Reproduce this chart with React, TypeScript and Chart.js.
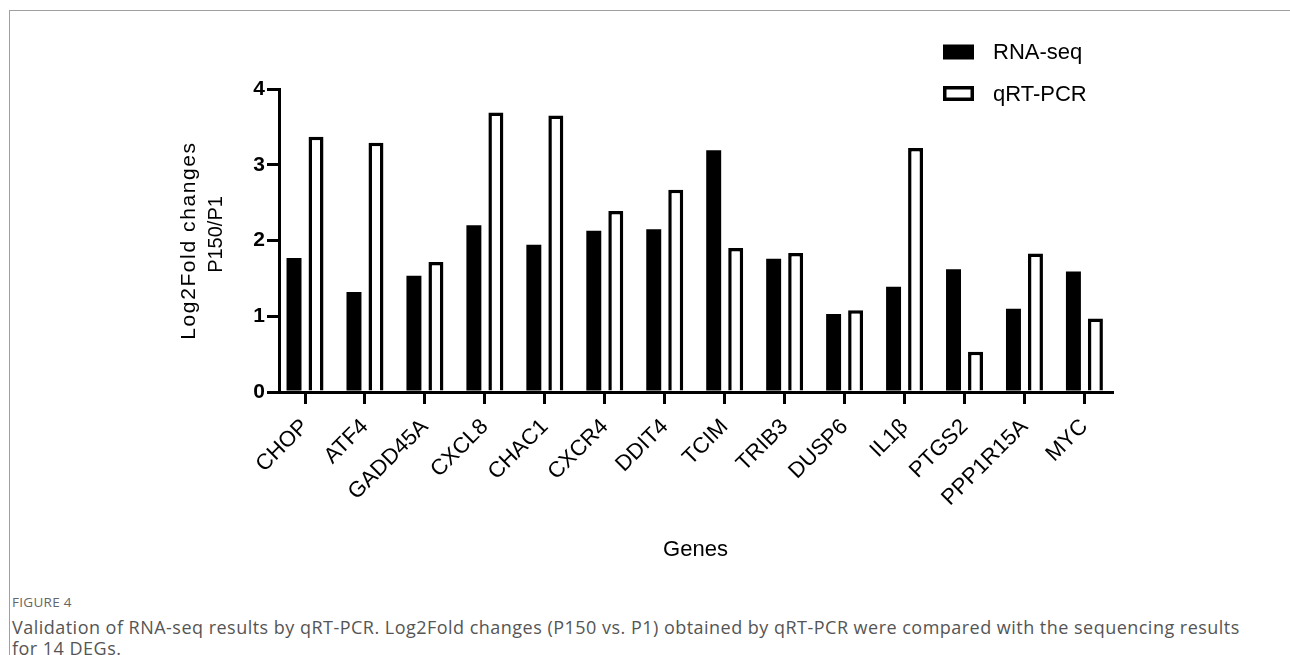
import React, { useEffect, useRef } from "react";
import { Chart, registerables } from "chart.js";

Chart.register(...registerables);

const genes = ["CHOP", "ATF4", "GADD45A", "CXCL8", "CHAC1", "CXCR4", "DDIT4", "TCIM", "TRIB3", "DUSP6", "IL1β", "PTGS2", "PPP1R15A", "MYC"];
const rnaSeq = [1.77, 1.32, 1.535, 2.2, 1.945, 2.13, 2.15, 3.19, 1.76, 1.03, 1.39, 1.62, 1.1, 1.59];
const qrtPcr = [3.37, 3.29, 1.716, 3.69, 3.65, 2.39, 2.67, 1.9, 1.835, 1.08, 3.22, 0.53, 1.83, 0.97];
const seriesLabels = ["RNA-seq", "qRT-PCR"];
const yTickValues = [0, 1, 2, 3, 4];
const yTitle = ["Log2Fold changes", "P150/P1"];
const xTitle = "Genes";

const FONT = "'Liberation Sans', Arial, Helvetica, sans-serif";

const legendPlugin = {
  id: "customLegend",
  afterDraw(chart: any) {
    const ctx = chart.ctx;
    const ds = chart.data.datasets;
    const x0 = 943;
    const rows = [44.5, 86];
    ctx.save();
    ds.forEach((d: any, i: number) => {
      const y = rows[i];
      const w = 31;
      const h = 15;
      ctx.fillStyle = d.backgroundColor;
      ctx.fillRect(x0, y, w, h);
      if (d.borderWidth > 0) {
        const bw = 3.5;
        ctx.strokeStyle = d.borderColor;
        ctx.lineWidth = bw;
        ctx.strokeRect(x0 + bw / 2, y + bw / 2, w - bw, h - bw);
      }
      ctx.fillStyle = "#000";
      ctx.font = `22px ${FONT}`;
      ctx.textBaseline = "middle";
      ctx.textAlign = "left";
      ctx.fillText(d.label, 993, y + h / 2 + 1);
    });
    ctx.restore();
  },
};

const yTitlePlugin = {
  id: "yTitleTwoLines",
  afterDraw(chart: any) {
    const ctx = chart.ctx;
    const ys = chart.scales.y;
    const cy = (ys.top + ys.bottom) / 2;
    ctx.save();
    ctx.translate(189, cy);
    ctx.rotate(-Math.PI / 2);
    ctx.fillStyle = "#000";
    ctx.textAlign = "center";
    ctx.textBaseline = "middle";
    ctx.font = `21px ${FONT}`;
    (ctx as any).letterSpacing = "1.6px";
    ctx.fillText(yTitle[0], 0, 0);
    (ctx as any).letterSpacing = "0px";
    ctx.font = `20px ${FONT}`;
    ctx.fillText(yTitle[1], 6, 27);
    ctx.restore();
  },
};

function BarChart() {
  const ref = useRef<HTMLCanvasElement | null>(null);
  useEffect(() => {
    if (!ref.current) return;
    Chart.defaults.font.family = FONT;
    const chart = new Chart(ref.current, {
      type: "bar",
      data: {
        datasets: [
          {
            label: seriesLabels[0],
            data: genes.map((_, i) => ({ x: i, y: rnaSeq[i] })),
            backgroundColor: "#000",
            borderColor: "#000",
            borderWidth: 0,
            categoryPercentage: 0.734,
            barPercentage: 0.68,
          },
          {
            label: seriesLabels[1],
            data: genes.map((_, i) => ({ x: i, y: qrtPcr[i] })),
            backgroundColor: "#fff",
            borderColor: "#000",
            borderWidth: 3.5,
            borderSkipped: "start",
            categoryPercentage: 0.734,
            barPercentage: 0.68,
          },
        ] as any,
      },
      options: {
        responsive: false,
        animation: false,
        devicePixelRatio: 1,
        layout: { padding: { left: 0, top: 89, right: 178, bottom: 0 } },
        plugins: {
          legend: { display: false },
          tooltip: { enabled: false },
        },
        scales: {
          x: {
            type: "linear",
            offset: false,
            min: -0.434,
            max: 13.46,
            afterBuildTicks: (s: any) => {
              s.ticks = genes.map((_, i) => ({ value: i }));
            },
            afterFit: (s: any) => {
              s.height = 198;
            },
            ticks: {
              autoSkip: false,
              minRotation: 45,
              maxRotation: 45,
              padding: 10,
              color: "#000",
              font: { size: 22 },
              callback: (_v: any, i: number) => genes[i],
            },
            grid: {
              display: true,
              offset: false,
              drawOnChartArea: false,
              drawTicks: true,
              tickLength: 12,
              lineWidth: 3,
              color: "#000",
            },
            border: { display: true, width: 3, color: "#000" },
            title: {
              display: true,
              text: xTitle,
              color: "#000",
              font: { size: 22 },
              padding: { top: 0, bottom: 27 },
            },
          },
          y: {
            type: "linear",
            min: 0,
            max: 4,
            afterBuildTicks: (s: any) => {
              s.ticks = yTickValues.map((v) => ({ value: v }));
            },
            afterFit: (s: any) => {
              s.width = 279;
            },
            ticks: {
              color: "#000",
              padding: 2,
              font: { size: 21, weight: "bold" },
            },
            grid: {
              display: true,
              drawOnChartArea: false,
              drawTicks: true,
              tickLength: 12,
              lineWidth: 3,
              color: "#000",
            },
            border: { display: true, width: 3, color: "#000" },
            title: { display: false },
          },
        },
      } as any,
      plugins: [legendPlugin, yTitlePlugin],
    });
    return () => chart.destroy();
  }, []);
  return <canvas ref={ref} width={1290} height={590} style={{ display: "block", width: 1290, height: 590 }} />;
}

export default function App() {
  return (
    <div style={{ position: "absolute", left: 0, top: 0, width: 1290, height: 655, background: "#fff", overflow: "hidden" }}>
      <div style={{ position: "absolute", left: 9, top: 10, right: 0, bottom: 0, borderTop: "1px solid #a0a0a0", borderLeft: "1px solid #a0a0a0" }} />
      <div style={{ position: "absolute", left: 0, top: 0 }}>
        <BarChart />
      </div>
      <div style={{ position: "absolute", left: 12, top: 593, fontFamily: "'Open Sans', 'Noto Sans', sans-serif", fontSize: 13.5, lineHeight: "18px", color: "#666", letterSpacing: 0.3, whiteSpace: "nowrap" }}>
        FIGURE 4
      </div>
      <div style={{ position: "absolute", left: 12, top: 617, fontFamily: "'Open Sans', 'Noto Sans', sans-serif", fontSize: 18, lineHeight: "21px", color: "#555", letterSpacing: 0.48, whiteSpace: "nowrap" }}>
        Validation of RNA-seq results by qRT-PCR. Log2Fold changes (P150 vs. P1) obtained by qRT-PCR were compared with the sequencing results
        <br />
        for 14 DEGs.
      </div>
    </div>
  );
}
